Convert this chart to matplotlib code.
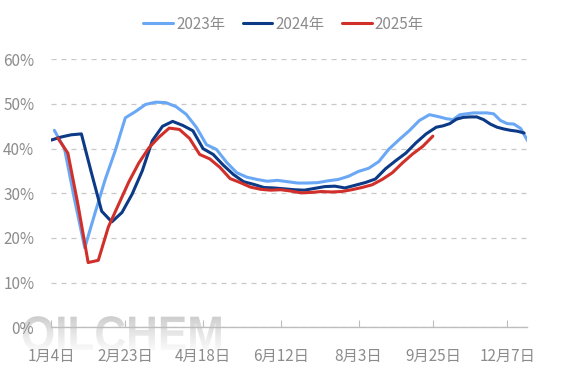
import numpy as np
import pandas as pd
import matplotlib
matplotlib.use("Agg")
import matplotlib.pyplot as plt
from matplotlib.ticker import FuncFormatter
from matplotlib.textpath import TextPath
from matplotlib.patches import PathPatch
from matplotlib.font_manager import FontProperties
from matplotlib.transforms import Affine2D
from matplotlib.colors import LinearSegmentedColormap

plt.rcParams['font.family'] = ['Noto Sans CJK SC', 'DejaVu Sans']

# weekly report dates (Thursdays) for each year
dates_2023 = pd.date_range("2023-01-05", periods=52, freq="7D")
dates_2024 = pd.date_range("2024-01-04", periods=52, freq="7D")
dates_2025 = pd.date_range("2025-01-09", periods=38, freq="7D")

# operating rate, %
rate_2023 = [44.1, 40.0, 28.5, 17.8, 25.5, 33.0, 39.5, 46.9, 48.3, 49.9,
             50.4, 50.3, 49.4, 47.7, 44.8, 40.9, 39.8, 36.9, 34.6, 33.6,
             33.1, 32.7, 32.9, 32.6, 32.3, 32.3, 32.4, 32.8, 33.1, 33.8,
             34.9, 35.6, 37.1, 39.9, 42.0, 44.0, 46.3, 47.6, 47.1, 46.7,
             46.5, 47.6, 47.8, 48.0, 48.0, 48.0, 47.8, 46.3, 45.6, 45.5,
             44.5, 41.8]
rate_2024 = [41.9, 42.6, 43.1, 43.3, 34.5, 26.0, 23.6, 25.7, 29.8, 35.0,
             41.8, 45.0, 46.1, 45.2, 44.0, 40.0, 38.7, 36.3, 34.2, 32.6,
             32.0, 31.3, 31.2, 31.0, 30.8, 30.7, 31.1, 31.5, 31.6, 31.2,
             31.8, 32.4, 33.2, 35.5, 37.3, 39.0, 41.3, 43.3, 44.8, 45.1,
             45.6, 46.6, 47.0, 47.1, 47.1, 46.5, 45.5, 44.8, 44.4, 44.1,
             43.9, 43.5]
rate_2025 = [42.4, 39.0, 27.4, 14.5, 15.0, 22.5, 27.5, 32.5, 36.8, 40.2,
             42.6, 44.6, 44.3, 42.3, 38.7, 37.7, 35.8, 33.3, 32.4, 31.4,
             30.9, 30.7, 30.8, 30.5, 30.1, 30.2, 30.4, 30.3, 30.4, 30.8,
             31.3, 31.9, 33.1, 34.6, 36.8, 38.8, 40.5, 42.8]

tick_labels = ["1月4日", "2月23日", "4月18日", "6月12日", "8月3日", "9月25日", "12月7日"]

series = [
    ("2023年", dates_2023, rate_2023, "#6aa8f6"),
    ("2024年", dates_2024, rate_2024, "#0c3a86"),
    ("2025年", dates_2025, rate_2025, "#d1302a"),
]

# category axis = union of month-day of all years
keys = sorted({(d.month, d.day) for _, ds, _, _ in series for d in ds})
pos = {k: i for i, k in enumerate(keys)}
cats = [f"{m}月{d}日" for m, d in keys]

fig = plt.figure(figsize=(5.67, 3.78), dpi=100)

# watermark behind the chart (gray fading to white)
wax = fig.add_axes([0, 0, 1, 1], zorder=-1)
wax.set_xlim(0, 567)
wax.set_ylim(0, 378)
wax.axis("off")
tp = TextPath((0, 0), "OILCHEM", size=44,
              prop=FontProperties(family="Liberation Sans", weight="bold"))
tp = tp.transformed(Affine2D().scale(1.0, 1.1).translate(21, 28))
patch = PathPatch(tp, facecolor="none", edgecolor="none")
wax.add_patch(patch)
fade = LinearSegmentedColormap.from_list("fade", ["#c9c9c9", "#e6e6e6", "#fbfbfb"])
grad = np.linspace(0, 1, 100).reshape(-1, 1)
img = wax.imshow(grad, cmap=fade, extent=(15, 240, 26, 64),
                 origin="upper", aspect="auto")
img.set_clip_path(patch)

ax = fig.add_axes([0.0899, 0.1341, 0.8404, 0.709])
ax.set_facecolor("none")

for name, ds, vals, color in series:
    x = [pos[(d.month, d.day)] for d in ds]
    ax.plot(x, vals, color=color, lw=2.2, label=name,
            solid_joinstyle="round", solid_capstyle="round")

ax.set_xlim(0, len(cats) - 1)
ax.set_ylim(0, 60)
ax.set_yticks(range(0, 61, 10))
ax.yaxis.set_major_formatter(FuncFormatter(lambda v, p: f"{v:.0f}%"))
ax.grid(axis="y", color="#c8c8c8", lw=0.9, ls=(0, (4, 4)))
ax.set_axisbelow(True)

ax.set_xticks([cats.index(l) for l in tick_labels])
ax.set_xticklabels(tick_labels)

for s in ["top", "right", "left"]:
    ax.spines[s].set_visible(False)
ax.spines["bottom"].set_color("#bdbdbd")
ax.spines["bottom"].set_linewidth(1)

ax.tick_params(axis="y", length=0, pad=12, labelcolor="#8c8c8c", labelsize=11)
ax.tick_params(axis="x", direction="in", length=5, color="#bdbdbd", pad=15,
               labelcolor="#8c8c8c", labelsize=11)

fig.legend(loc="center", bbox_to_anchor=(0.5, 0.9365), ncol=3, frameon=False,
           handlelength=1.95, handletextpad=0.2, columnspacing=1.15,
           fontsize=11, labelcolor="#8c8c8c")

fig.savefig("out.png", dpi=100)
